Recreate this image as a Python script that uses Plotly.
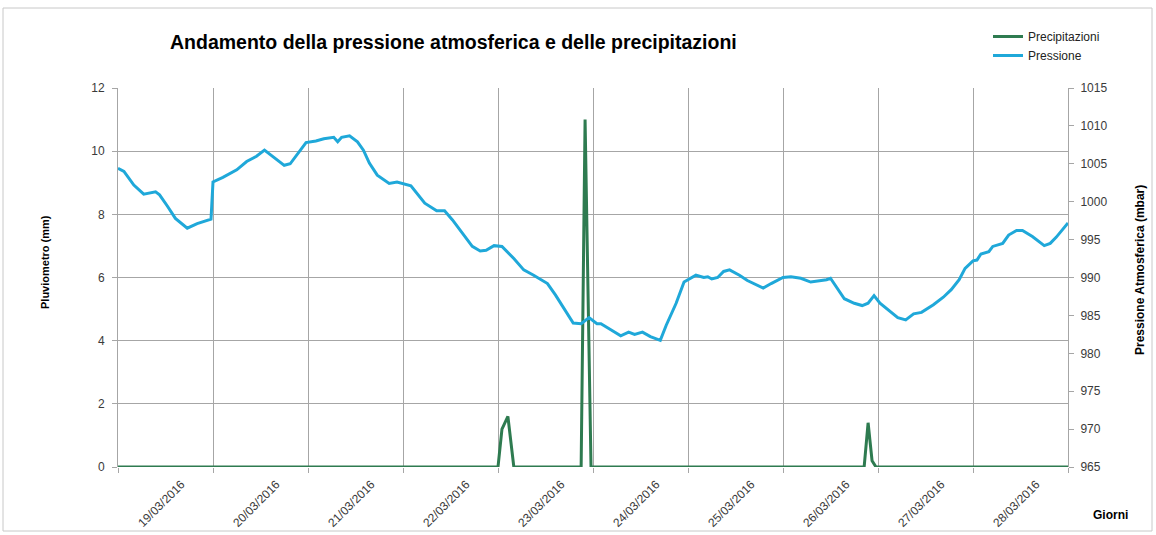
import pandas as pd
import plotly.graph_objects as go

# hours since 19/03/2016 00:00 and atmospheric pressure (mbar)
pressure_hours = [
    0, 1.5, 4, 6.5, 9.5, 10.5, 12.5, 14.5, 17.5, 20, 23.5,
    24, 26.5, 30, 32.5, 35, 37, 38.5, 39.5, 42, 43.5, 45.5, 47.5,
    50, 52, 54.5, 55.5, 56.5, 58.5, 60.5, 62, 63.5, 65.5, 68.5, 70.5,
    74, 77.5, 80.5, 82.5, 84.5, 87, 89.5, 91.5, 93, 95,
    97, 100, 102.5, 105, 108.5, 110.5, 112.5, 115, 117, 119,
    121, 122, 124.5, 127, 129, 130.5, 132.5, 134.5, 137, 138.5, 141, 143,
    146, 148, 149, 150, 151.5, 153, 154.5, 157, 159, 161, 163, 165,
    168, 170, 171, 172.5, 175, 177.5, 179, 180, 181.5, 183.5, 186, 188, 189.5, 191,
    192.5, 194.5, 197, 199, 201, 203, 206, 208.5, 210.5, 212.5, 214,
    216, 217, 218, 220, 221, 223.5, 225, 227, 228.5, 231, 234, 235.5, 237, 239, 240,
]
pressure_mbar = [
    1004.4, 1004.0, 1002.2, 1001.0, 1001.3, 1000.9, 999.4, 997.8, 996.5, 997.1, 997.7,
    1002.6, 1003.2, 1004.2, 1005.3, 1006.0, 1006.8, 1006.2, 1005.7, 1004.8, 1005.0, 1006.4, 1007.8,
    1008.0, 1008.3, 1008.5, 1007.9, 1008.5, 1008.7, 1007.9, 1006.8, 1005.1, 1003.5, 1002.4, 1002.6,
    1002.1, 999.8, 998.8, 998.8, 997.6, 995.8, 994.1, 993.5, 993.6, 994.2,
    994.1, 992.5, 991.0, 990.3, 989.2, 987.7, 986.1, 984.0, 983.9, 984.7,
    983.9, 983.9, 983.1, 982.3, 982.8, 982.5, 982.8, 982.2, 981.7, 983.7, 986.6, 989.4,
    990.3, 990.0, 990.1, 989.8, 990.0, 990.8, 991.0, 990.3, 989.6, 989.1, 988.6, 989.2,
    990.0, 990.1, 990.0, 989.9, 989.4, 989.6, 989.7, 989.9, 988.8, 987.2, 986.6, 986.3, 986.6, 987.6,
    986.6, 985.8, 984.7, 984.4, 985.2, 985.4, 986.4, 987.4, 988.4, 989.7, 991.2,
    992.2, 992.3, 993.1, 993.4, 994.1, 994.5, 995.6, 996.2, 996.2, 995.4, 994.2, 994.5, 995.3, 996.5, 997.2,
]

# rainfall (mm)
precip_times = [
    "2016-03-19 00:00", "2016-03-23 00:00", "2016-03-23 01:00", "2016-03-23 02:30",
    "2016-03-23 04:00", "2016-03-23 21:00", "2016-03-23 22:00", "2016-03-23 23:30",
    "2016-03-26 20:30", "2016-03-26 21:30", "2016-03-26 22:30", "2016-03-26 23:30",
    "2016-03-29 00:00",
]
precip_mm = [0, 0, 1.2, 1.6, 0, 0, 11, 0, 0, 1.4, 0.2, 0, 0]

day_labels = [
    "19/03/2016", "20/03/2016", "21/03/2016", "22/03/2016", "23/03/2016",
    "24/03/2016", "25/03/2016", "26/03/2016", "27/03/2016", "28/03/2016",
]

start = pd.Timestamp("2016-03-19")
pressure_time = start + pd.to_timedelta(pressure_hours, unit="h")
label_pos = [start + pd.Timedelta(days=i, hours=16) for i in range(len(day_labels))]

FONT = "Liberation Sans, Arial, sans-serif"
GRID = "#a6a6a6"
TICK = dict(family=FONT, size=12, color="#3a3a3a")

fig = go.Figure()
fig.add_trace(go.Scatter(
    x=pd.to_datetime(precip_times), y=precip_mm, name="Precipitazioni",
    mode="lines", line=dict(color="#2e7b50", width=3),
))
fig.add_trace(go.Scatter(
    x=pressure_time, y=pressure_mbar, name="Pressione", yaxis="y2",
    mode="lines", line=dict(color="#1fa8d9", width=3),
))

fig.update_layout(
    width=1156, height=535,
    margin=dict(l=118, r=88, t=88, b=68, autoexpand=False),
    paper_bgcolor="white", plot_bgcolor="white",
    font=dict(family=FONT, color="black"),
    title=dict(
        text="<b>Andamento della pressione atmosferica e delle precipitazioni</b>",
        font=dict(family=FONT, size=19.5, color="black"),
        x=170 / 1156, xanchor="left", xref="container",
        y=1 - 42 / 535, yanchor="middle", yref="container",
    ),
    xaxis=dict(
        type="date", automargin=False,
        range=[start, start + pd.Timedelta(days=10)],
        tickmode="array", tickvals=label_pos, ticktext=day_labels,
        tickangle=-45, tickfont=TICK, ticks="", ticklabelstandoff=7,
        showgrid=False, zeroline=False, showline=False,
        minor=dict(
            tickmode="linear", tick0="2016-03-19", dtick=86400000,
            showgrid=True, gridcolor=GRID, gridwidth=1,
            ticks="outside", ticklen=5, tickcolor=GRID,
        ),
    ),
    yaxis=dict(
        range=[0, 12], dtick=2, tickfont=TICK, ticklabelstandoff=5, automargin=False,
        showgrid=True, gridcolor=GRID, zeroline=False,
        showline=True, linecolor=GRID, ticks="outside", ticklen=5, tickcolor=GRID,
    ),
    yaxis2=dict(
        range=[965, 1015], dtick=5, tickfont=TICK, overlaying="y", side="right",
        ticklabelstandoff=4, automargin=False,
        showgrid=False, zeroline=False,
        showline=True, linecolor=GRID, ticks="outside", ticklen=5, tickcolor=GRID,
    ),
    legend=dict(
        x=(988 - 118) / 950, y=(467 - 22) / 379, xanchor="left", yanchor="top",
        font=dict(family=FONT, size=12, color="#222"), bgcolor="rgba(0,0,0,0)",
        itemwidth=30, tracegroupgap=4,
    ),
    showlegend=True,
)

fig.add_annotation(
    text="<b>Pluviometro (mm)</b>", textangle=-90, showarrow=False,
    xref="paper", yref="paper", x=(45 - 118) / 950, y=(467 - 262) / 379,
    xanchor="center", yanchor="middle",
    font=dict(family=FONT, size=11, color="black"),
)
fig.add_annotation(
    text="<b>Pressione Atmosferica (mbar)</b>", textangle=-90, showarrow=False,
    xref="paper", yref="paper", x=(1140 - 118) / 950, y=(467 - 270) / 379,
    xanchor="center", yanchor="middle",
    font=dict(family=FONT, size=12, color="black"),
)
fig.add_annotation(
    text="<b>Giorni</b>", showarrow=False,
    xref="paper", yref="paper", x=(1110 - 118) / 950, y=(467 - 515) / 379,
    xanchor="center", yanchor="middle",
    font=dict(family=FONT, size=12, color="black"),
)

# light frame around the whole chart
fig.add_shape(
    type="rect", xref="paper", yref="paper",
    x0=(3 - 118) / 950, x1=(1152 - 118) / 950,
    y0=(467 - 531) / 379, y1=(467 - 8) / 379,
    line=dict(color="#c8c8c8", width=1), layer="below",
)

fig.write_html(
    "out.html",
    config={"displayModeBar": False},
    post_script="document.body.style.margin='0';",
)
